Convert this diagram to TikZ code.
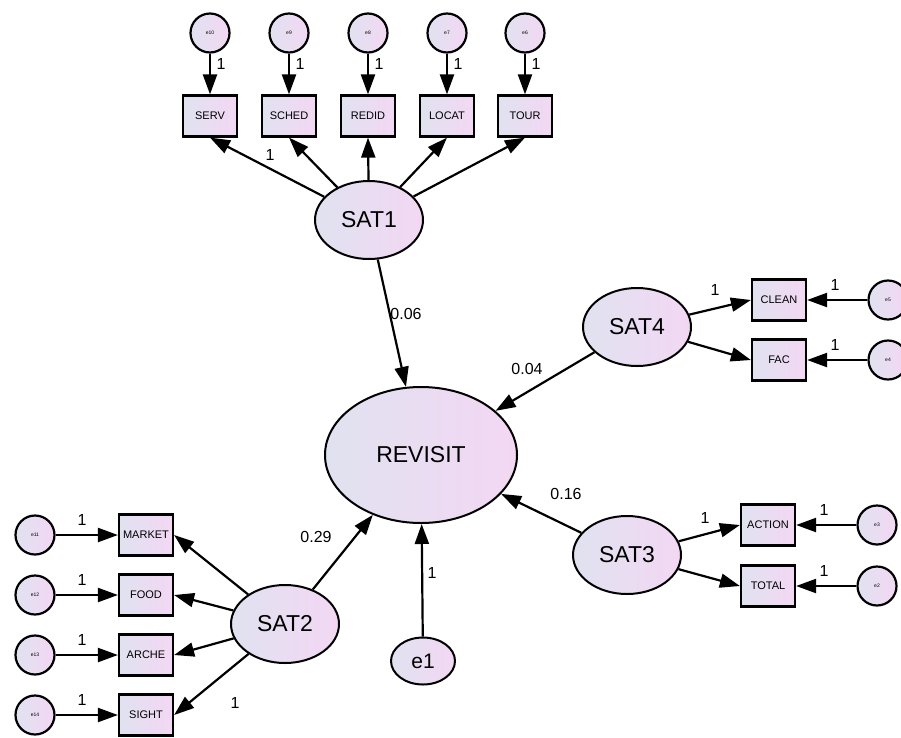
\documentclass[tikz,border=0pt]{standalone}
\usepackage{fontspec}
\setmainfont{Liberation Sans}
\usetikzlibrary{shapes.geometric,arrows.meta}

\definecolor{fillL}{RGB}{224,226,240}
\definecolor{fillR}{RGB}{243,215,243}

\tikzset{
  obs/.style={draw, line width=2.2pt, rectangle, minimum width=54pt, minimum height=41pt,
    inner sep=0pt, left color=fillL, right color=fillR, font=\fontsize{11}{13}\selectfont},
  lat/.style={draw, line width=2pt, ellipse, inner sep=0pt, minimum width=108pt,
    minimum height=78pt, left color=fillL, right color=fillR, font=\fontsize{23}{26}\selectfont},
  err/.style={draw, line width=2.2pt, circle, minimum size=39pt, inner sep=0pt,
    left color=fillL, right color=fillR, font=\fontsize{5}{6}\selectfont},
  reg/.style={-{Triangle[length=20pt,width=14pt]}, line width=2.2pt},
  wt/.style={font=\fontsize{16}{19}\selectfont, inner sep=1pt},
}

\begin{document}
\begin{tikzpicture}[x=1pt, y=-1pt]
\useasboundingbox (0,0) rectangle (901,737);

%% === variabili latenti ===
\node[lat] (sat1) at (369,220) {SAT1};
\node[lat, minimum width=192pt, minimum height=136pt] (rev) at (421,455) {REVISIT};
\node[lat, minimum width=64pt, minimum height=47pt, font=\fontsize{21}{24}\selectfont] (e1) at (423,661) {e1};
\node[lat] (sat4) at (637,327) {SAT4};
\node[lat] (sat3) at (627,555) {SAT3};
\node[lat] (sat2) at (285,624) {SAT2};

%% === SAT1: indicatori in alto ===
\foreach \n/\t/\e/\x in {serv/SERV/e10/210, sched/SCHED/e9/289, redid/REDID/e8/368,
                         locat/LOCAT/e7/447, tour/TOUR/e6/525} {
    \node[obs] (\n) at (\x,116) {\t};
    \node[err] (\e) at (\x,33) {\e};
    \draw[reg] (\e) -- (\n);
    \node[wt] (w\n) at (\x+11,64) {1};
    \draw[reg] (sat1) -- (\n.south);
}
\node[wt] (wsat1) at (270,155) {1};

%% === SAT2: indicatori a sinistra ===
\foreach \n/\t/\e/\y in {market/MARKET/e11/535, food/FOOD/e12/595,
                         arche/ARCHE/e13/655, sight/SIGHT/e14/715} {
    \node[obs] (\n) at (146,\y) {\t};
    \node[err] (\e) at (35,\y) {\e};
    \draw[reg] (\e) -- (\n);
    \node[wt] (w\n) at (82,\y-15) {1};
    \draw[reg] (sat2) -- (\n.east);
}
\node[wt] (wsat2) at (235,703) {1};

%% === SAT4 e SAT3: indicatori a destra ===
\foreach \s/\n/\t/\e/\x/\y in {sat4/clean/CLEAN/e5/888/300, sat4/fac/FAC/e4/888/360,
                               sat3/action/ACTION/e3/877/525, sat3/total/TOTAL/e2/877/586} {
    \node[obs] (\n) at (\x-109,\y) {\t};
    \node[err] (\e) at (\x,\y) {\e};
    \draw[reg] (\e) -- (\n);
    \node[wt] (w\n) at (\x-53,\y-15) {1};
    \draw[reg] (\s) -- (\n.west);
}
\node[wt] (wsat4) at (715,290) {1};
\node[wt] (wsat3) at (705,518) {1};

%% === effetti su REVISIT ===
\draw[reg] (sat1) -- (rev);
\draw[reg] (sat4) -- (rev);
\draw[reg] (sat3) -- (rev);
\draw[reg] (sat2) -- (rev);
\draw[reg] (e1) -- (rev);

\node[wt] (c1) at (406,314) {0.06};
\node[wt] (c4) at (527,369) {0.04};
\node[wt] (c3) at (566,494) {0.16};
\node[wt] (c2) at (316,537) {0.29};
\node[wt] (ce1) at (432,573) {1};

\end{tikzpicture}
\end{document}
